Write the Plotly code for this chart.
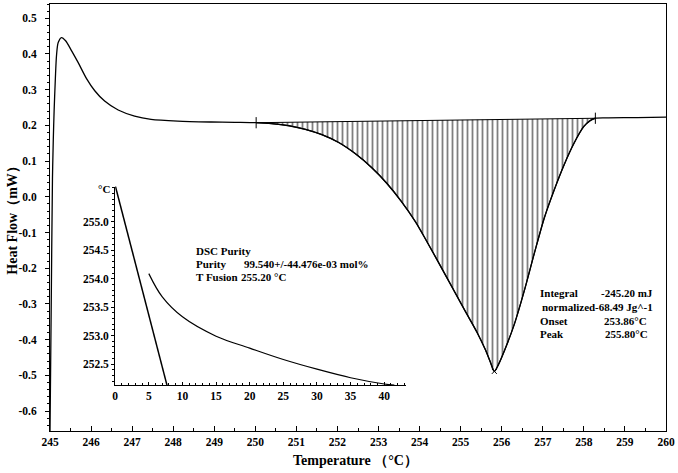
import numpy as np
import plotly.graph_objects as go

# ---------------- data ----------------
temperature = [245.00, 245.03, 245.06, 245.08, 245.10, 245.13, 245.16, 245.20, 245.28, 245.38,
               245.53, 245.69, 245.89, 246.09, 246.33, 246.66, 247.06, 247.46, 248.11, 248.92,
               249.50, 250.02, 250.40, 250.82, 251.22, 251.62, 252.03, 252.43, 252.83, 253.20,
               253.55, 253.90, 254.20, 254.50, 254.80, 255.10, 255.40, 255.60, 255.72,
               255.82, 255.92, 256.07, 256.31, 256.55, 256.79, 257.04, 257.28, 257.52, 257.76,
               258.00, 258.16, 258.28, 258.60, 259.30, 260.00]
heat_flow = [-0.66, -0.30, 0.05, 0.16, 0.24, 0.33, 0.398, 0.432, 0.446, 0.437,
             0.408, 0.375, 0.331, 0.297, 0.268, 0.243, 0.226, 0.217, 0.212, 0.2095,
             0.2085, 0.2075, 0.205, 0.199, 0.189, 0.174, 0.152, 0.121, 0.082, 0.038,
             -0.012, -0.070, -0.130, -0.192, -0.255, -0.318, -0.380, -0.428, -0.462,
             -0.489, -0.470, -0.430, -0.356, -0.263, -0.160, -0.058, 0.020, 0.090, 0.150,
             0.197, 0.214, 0.220, 0.221, 0.222, 0.223]

integration_limits = [250.02, 258.28]
peak_point = [255.82, -0.489]

x_tick_vals = list(range(245, 261))
y_tick_vals = [-0.6, -0.5, -0.4, -0.3, -0.2, -0.1, 0.0, 0.1, 0.2, 0.3, 0.4, 0.5]
y_tick_text = ["-0.6", "-0.5", "-0.4", "-0.3", "-0.2", "-0.1", "0.0", "0.1", "0.2", "0.3", "0.4", "0.5"]

# inset (DSC purity)
purity_line_x = [0.0, 7.7]
purity_line_y = [255.64, 252.13]
purity_curve_x = [5.0, 7.0, 10.0, 15.0, 20.0, 25.0, 30.0, 35.0, 40.0, 41.5]
purity_curve_y = [254.09, 253.68, 253.33, 252.99, 252.78, 252.58, 252.41, 252.26, 252.15, 252.13]
inset_x_ticks = [0, 5, 10, 15, 20, 25, 30, 35, 40]
inset_y_ticks = [252.5, 253.0, 253.5, 254.0, 254.5, 255.0]

purity_text = [("DSC Purity", ""), ("Purity", "99.540+/-44.476e-03 mol%"), ("T Fusion", "255.20 °C")]
peak_text = [("Integral", "-245.20 mJ"), ("normalized", "-68.49 Jg^-1"),
             ("Onset", "253.86°C"), ("Peak", "255.80°C")]

# ---------------- figure ----------------
FONT = "Liberation Serif, Times New Roman, serif"
W, H = 678, 473
L, R, T, B = 50, 9, 3, 42
pw, ph = W - L - R, H - T - B


def px(x):
    return (x - L) / pw


def py(y):
    return (H - B - y) / ph


t = np.array(temperature)
f = np.array(heat_flow)
lo, hi = integration_limits
b_lo = float(np.interp(lo, t, f))
b_hi = float(np.interp(hi, t, f))
mask = (t >= lo) & (t <= hi)

fig = go.Figure()

# baseline for integration
fig.add_trace(go.Scatter(x=[lo, hi], y=[b_lo, b_hi], mode="lines",
                         line=dict(color="black", width=1), showlegend=False, hoverinfo="skip"))
# hatched peak area
fig.add_trace(go.Scatter(x=t[mask], y=f[mask], mode="lines", fill="tonexty",
                         fillcolor="rgba(0,0,0,0)",
                         fillpattern=dict(shape="|", size=5, solidity=0.36, fgcolor="black",
                                          fillmode="overlay"),
                         line=dict(color="black", width=1.2, shape="spline", smoothing=0.8),
                         showlegend=False, hoverinfo="skip"))
# main curve
fig.add_trace(go.Scatter(x=temperature, y=heat_flow, mode="lines",
                         line=dict(color="black", width=1.3, shape="spline", smoothing=0.8),
                         showlegend=False))
# integration limit markers
fig.add_trace(go.Scatter(x=[lo, hi], y=[b_lo, b_hi], mode="markers",
                         marker=dict(symbol="line-ns", size=8, line=dict(color="black", width=1)),
                         showlegend=False, hoverinfo="skip"))
fig.add_trace(go.Scatter(x=[peak_point[0]], y=[peak_point[1]], mode="markers",
                         marker=dict(symbol="x-thin", size=5, line=dict(color="black", width=1)),
                         showlegend=False, hoverinfo="skip"))

# inset traces
fig.add_trace(go.Scatter(x=purity_line_x, y=purity_line_y, mode="lines", xaxis="x2", yaxis="y2",
                         line=dict(color="black", width=1.5), showlegend=False))
fig.add_trace(go.Scatter(x=purity_curve_x, y=purity_curve_y, mode="lines", xaxis="x2", yaxis="y2",
                         line=dict(color="black", width=1.2, shape="spline"), showlegend=False))

tickfont = dict(family=FONT, size=11.5, color="black", weight="bold")

fig.update_layout(
    width=W, height=H,
    font=dict(family=FONT, color="black", weight="bold"),
    margin=dict(l=L, r=R, t=T, b=B),
    paper_bgcolor="white", plot_bgcolor="rgba(0,0,0,0)",
    xaxis=dict(range=[245, 260], tickvals=x_tick_vals, ticks="inside", ticklen=5,
               tickcolor="black", showline=True, linecolor="black", linewidth=1, mirror=True,
               showgrid=False, zeroline=False, tickfont=tickfont,
               minor=dict(dtick=0.5, ticks="inside", ticklen=3, tickcolor="black")),
    yaxis=dict(range=[-0.656, 0.54], tickvals=y_tick_vals, ticktext=y_tick_text,
               ticks="outside", ticklen=4, tickcolor="black", ticklabelstandoff=6,
               showline=True, linecolor="black", linewidth=1, mirror=True,
               showgrid=False, zeroline=False, tickfont=tickfont,
               minor=dict(dtick=0.02, tick0=0, ticks="outside", ticklen=2, tickcolor="black")),
    xaxis2=dict(domain=[px(115.5), px(407.5)], anchor="y2", range=[0, 43.2],
                tickvals=inset_x_ticks, ticks="inside", ticklen=3, tickcolor="black",
                showline=True, linecolor="black", linewidth=1.2, showgrid=False, zeroline=False,
                tickfont=tickfont,
                minor=dict(dtick=1, ticks="inside", ticklen=2, tickcolor="black")),
    yaxis2=dict(domain=[py(385), py(186)], anchor="x2", range=[252.13, 255.62],
                tickvals=inset_y_ticks, tickformat=".1f", ticks="outside", ticklen=3,
                tickcolor="black", showline=True, linecolor="black", linewidth=1.2,
                showgrid=False, zeroline=False, tickfont=tickfont,
                minor=dict(dtick=0.1, tick0=252.5, ticks="outside", ticklen=2, tickcolor="black")),
)

afont = dict(family=FONT, size=11, color="black", weight="bold")
tfont = dict(family=FONT, size=14, color="black", weight="bold")


def note(text, x, y, font, xanchor="left", angle=0):
    return dict(text=text, x=px(x), y=py(y), xref="paper", yref="paper", xanchor=xanchor,
                yanchor="middle", showarrow=False, font=font, textangle=angle)


ann = [
    note("Temperature （°C）", 357, 461, tfont, xanchor="center"),
    note("Heat Flow（mW）", 12, 217, tfont, xanchor="center", angle=-90),
    note("°C", 112, 188, afont, xanchor="right"),
]
# purity block
rows_y = [251, 264, 277]
val_x = [None, 243, 240]
for (lab, val), yy, vx in zip(purity_text, rows_y, val_x):
    ann.append(note(lab, 195, yy, afont))
    if val:
        ann.append(note(val, vx, yy, afont))
# peak block
rows_y = [293, 307, 321, 334]
lab_x = [540, 542, 540, 540]
val_x = [602, 596, 605, 606]
for (lab, val), yy, lx, vx in zip(peak_text, rows_y, lab_x, val_x):
    ann.append(note(lab, lx, yy, afont))
    ann.append(note(val, vx, yy, afont))

fig.update_layout(annotations=ann)
fig.write_html("out.html", config={"displayModeBar": False},
               post_script="document.body.style.margin='0';document.body.style.overflow='hidden';")
